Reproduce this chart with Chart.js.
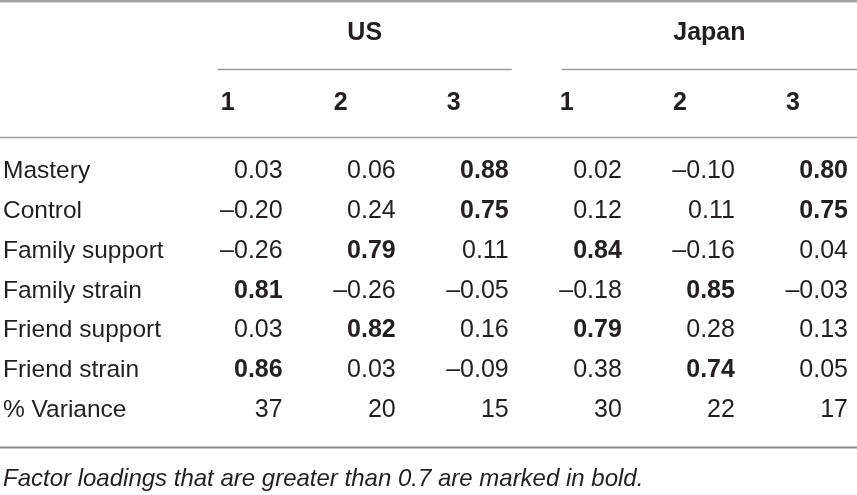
<!DOCTYPE html>
<html>
<head>
<meta charset="utf-8">
<script src="https://cdn.jsdelivr.net/npm/chart.js@4"></script>
<style>
  html, body { margin: 0; padding: 0; background: #fff; }
  canvas { display: block; }
</style>
</head>
<body>
<canvas id="chart-table" width="857" height="495"></canvas>
<script>
// Factor loadings, US vs Japan (three factors each)
const rowLabels = ['Mastery', 'Control', 'Family support', 'Family strain', 'Friend support', 'Friend strain', '% Variance'];
const groupLabels = ['US', 'Japan'];
const factorLabels = ['1', '2', '3'];

const usFactor1 = [0.03, -0.20, -0.26, 0.81, 0.03, 0.86];
const usFactor2 = [0.06, 0.24, 0.79, -0.26, 0.82, 0.03];
const usFactor3 = [0.88, 0.75, 0.11, -0.05, 0.16, -0.09];
const jpFactor1 = [0.02, 0.12, 0.84, -0.18, 0.79, 0.38];
const jpFactor2 = [-0.10, 0.11, -0.16, 0.85, 0.28, 0.74];
const jpFactor3 = [0.80, 0.75, 0.04, -0.03, 0.13, 0.05];

const usVariance = [37, 20, 15];
const jpVariance = [30, 22, 17];

const BOLD_THRESHOLD = 0.7;
const NOTE = 'Factor loadings that are greater than 0.7 are marked in bold.';

const FONT = '"Helvetica Neue", "Liberation Sans", Arial, sans-serif';
const TEXT = '#231f20';
const RULE = '#9a9a9a';
const TEXT_DY = 1.5; // canvas 'middle' sits a touch high for digits

// vertical layout, in row units of the y scale
const GROUP_ROW = -3.47;
const GROUP_RULE = -2.53;
const HEADER_ROW = -1.71;
const HEADER_RULE = -0.83;
const FOOT_RULE = 6.96;
const NOTE_ROW = 7.74;

const columns = [usFactor1, usFactor2, usFactor3, jpFactor1, jpFactor2, jpFactor3];
const variances = usVariance.concat(jpVariance);

function fmt(v) {
  const s = Math.abs(v).toFixed(2);
  return v < 0 ? '\u2013' + s : s;
}

const datasets = columns.map((col, ci) => ({
  label: (ci < 3 ? groupLabels[0] : groupLabels[1]) + ' ' + factorLabels[ci % 3],
  data: col.map((v, ri) => ({ x: ci + 1, y: ri, text: fmt(v), bold: v > BOLD_THRESHOLD }))
    .concat([{ x: ci + 1, y: col.length, text: String(variances[ci]), bold: false }]),
  pointRadius: 0,
  showLine: false,
}));

const tablePlugin = {
  id: 'tableText',
  afterDatasetsDraw(chart) {
    const { ctx, chartArea, scales: { x, y } } = chart;
    const ty = (v) => y.getPixelForValue(v) + TEXT_DY;
    ctx.save();
    ctx.fillStyle = TEXT;
    ctx.textBaseline = 'middle';

    // cells
    chart.data.datasets.forEach((ds, di) => {
      const meta = chart.getDatasetMeta(di);
      meta.data.forEach((pt, i) => {
        const d = ds.data[i];
        ctx.font = (d.bold ? 'bold ' : '') + '25px ' + FONT;
        ctx.textAlign = 'right';
        ctx.fillText(d.text, pt.x, pt.y + TEXT_DY);
      });
    });

    // row labels
    ctx.font = '24.5px ' + FONT;
    ctx.textAlign = 'left';
    rowLabels.forEach((lab, i) => ctx.fillText(lab, chartArea.left + 3, ty(i)));

    // factor headers
    ctx.font = 'bold 25px ' + FONT;
    for (let c = 1; c <= 6; c++) {
      ctx.fillText(factorLabels[(c - 1) % 3], x.getPixelForValue(c) - 62, ty(HEADER_ROW));
    }

    // group headers + rules
    const spans = [
      [x.getPixelForValue(1) - 65, x.getPixelForValue(3) + 3],
      [x.getPixelForValue(4) - 60, chartArea.right],
    ];
    ctx.textAlign = 'center';
    ctx.strokeStyle = RULE;
    spans.forEach((s, g) => {
      ctx.fillText(groupLabels[g], (s[0] + s[1]) / 2, ty(GROUP_ROW));
      const yy = Math.round(y.getPixelForValue(GROUP_RULE)) + 0.5;
      ctx.lineWidth = 1.3;
      ctx.beginPath(); ctx.moveTo(s[0], yy); ctx.lineTo(s[1], yy); ctx.stroke();
    });

    const hline = (py, w, col) => {
      ctx.strokeStyle = col;
      ctx.lineWidth = w;
      ctx.beginPath(); ctx.moveTo(chartArea.left, py); ctx.lineTo(chartArea.right, py); ctx.stroke();
    };
    hline(chartArea.top + 1.2, 2.4, '#a3a3a3');
    hline(Math.round(y.getPixelForValue(HEADER_RULE)) + 0.5, 1.3, RULE);
    hline(Math.round(y.getPixelForValue(FOOT_RULE)) + 0.5, 2, '#8a8a8a');

    // footnote
    ctx.font = 'italic 24px ' + FONT;
    ctx.textAlign = 'left';
    ctx.fillText(NOTE, chartArea.left + 3, ty(NOTE_ROW));
    ctx.restore();
  },
};

new Chart(document.getElementById('chart-table'), {
  type: 'scatter',
  data: { datasets },
  options: {
    responsive: false,
    animation: false,
    events: [],
    layout: { padding: 0 },
    plugins: { legend: { display: false }, tooltip: { enabled: false } },
    scales: {
      x: { type: 'linear', display: false, min: -1.5, max: 6.08 },
      y: { type: 'linear', display: false, reverse: true, min: -4.27, max: 8.17 },
    },
  },
  plugins: [tablePlugin],
});
</script>
</body>
</html>
